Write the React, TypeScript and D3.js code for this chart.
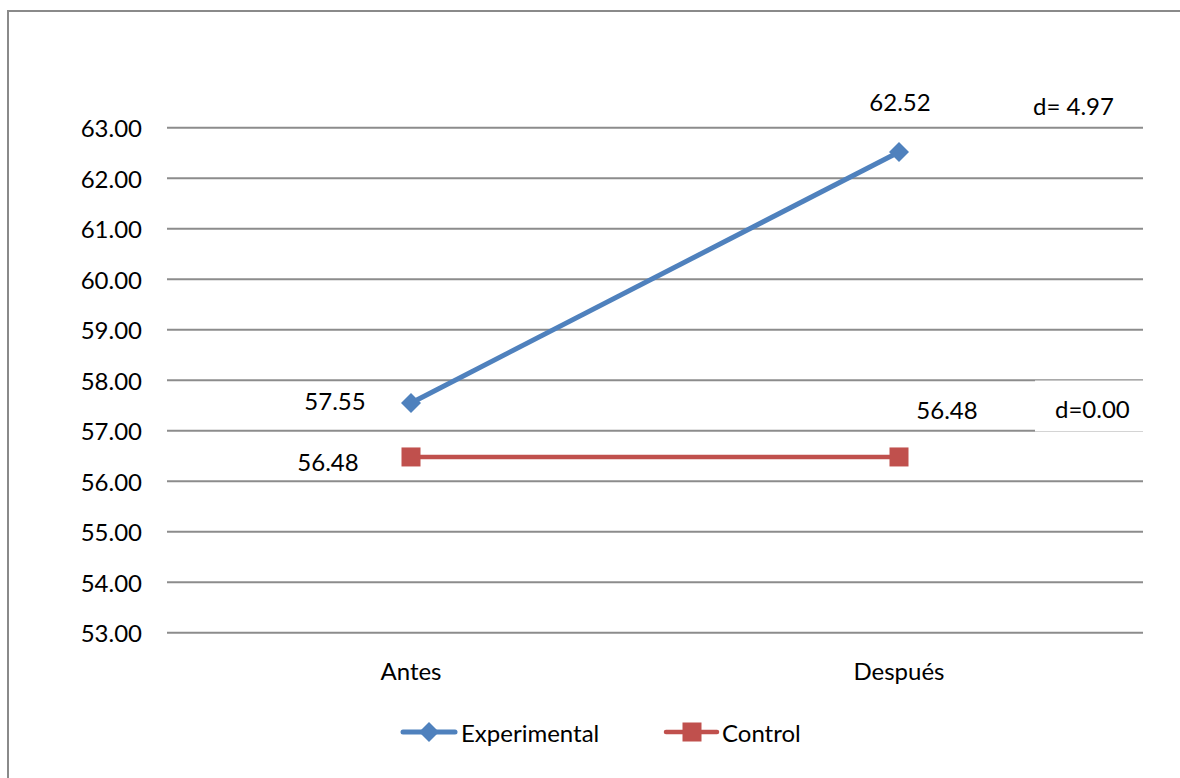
import React from "react";
import * as d3 from "d3";

const categories = ["Antes", "Después"];
const experimental = [57.55, 62.52];
const control = [56.48, 56.48];
const yTicks = [53, 54, 55, 56, 57, 58, 59, 60, 61, 62, 63];
const diffLabels = ["d= 4.97", "d=0.00"];
const seriesNames = ["Experimental", "Control"];

const W = 1180;
const H = 778;
const FONT = "Lato, 'Open Sans', sans-serif";
const FS = 24;
const BLUE = "#4f81bd";
const RED = "#c0504d";
const GRID = "#8c8c8c";

export default function App() {
  const x = d3.scaleBand<string>().domain(categories).range([167, 1143]);
  const cx = (c: string) => (x(c) ?? 0) + x.bandwidth() / 2;
  const y = d3.scaleLinear().domain([53, 63]).range([632.7, 127.7]);

  const line = d3
    .line<number>()
    .x((_, i) => cx(categories[i]))
    .y((v) => y(v));

  const diamond = (px: number, py: number, r: number) =>
    `M${px},${py - r}L${px + r},${py}L${px},${py + r}L${px - r},${py}Z`;

  return (
    <svg
      width={W}
      height={H}
      style={{ position: "absolute", left: 0, top: 0, background: "#fff" }}
      fontFamily={FONT}
    >
      {/* chart frame */}
      <path d={`M8,${H}L8,11L${W},11`} fill="none" stroke="#8a8a8a" strokeWidth={2} />

      {/* horizontal gridlines */}
      {yTicks.map((t) => (
        <line
          key={t}
          x1={167}
          x2={1143}
          y1={y(t)}
          y2={y(t)}
          stroke={GRID}
          strokeWidth={2}
        />
      ))}

      {/* y tick labels */}
      {yTicks.map((t) => (
        <text
          key={"l" + t}
          x={142}
          y={y(t)}
          textAnchor="end"
          dominantBaseline="central"
          fontSize={FS}
          fill="#000"
        >
          {t.toFixed(2)}
        </text>
      ))}

      {/* category labels */}
      {categories.map((c) => (
        <text
          key={c}
          x={cx(c)}
          y={670}
          textAnchor="middle"
          dominantBaseline="central"
          fontSize={FS}
        >
          {c}
        </text>
      ))}

      {/* control series */}
      <path d={line(control) ?? ""} fill="none" stroke={RED} strokeWidth={4.5} />
      {control.map((v, i) => (
        <rect
          key={"c" + i}
          x={cx(categories[i]) - 9.5}
          y={y(v) - 9.5}
          width={19}
          height={19}
          fill={RED}
        />
      ))}

      {/* experimental series */}
      <path d={line(experimental) ?? ""} fill="none" stroke={BLUE} strokeWidth={5} />
      {experimental.map((v, i) => (
        <path key={"e" + i} d={diamond(cx(categories[i]), y(v), 10)} fill={BLUE} />
      ))}

      {/* value labels */}
      <text x={cx(categories[0]) - 76} y={y(experimental[0]) - 2} textAnchor="middle" dominantBaseline="central" fontSize={FS}>
        {experimental[0].toFixed(2)}
      </text>
      <text x={cx(categories[1]) + 1} y={y(experimental[1]) - 50} textAnchor="middle" dominantBaseline="central" fontSize={FS}>
        {experimental[1].toFixed(2)}
      </text>
      <text x={cx(categories[0]) - 83} y={y(control[0]) + 5} textAnchor="middle" dominantBaseline="central" fontSize={FS}>
        {control[0].toFixed(2)}
      </text>
      <text x={cx(categories[1]) + 48} y={y(control[1]) - 47} textAnchor="middle" dominantBaseline="central" fontSize={FS}>
        {control[1].toFixed(2)}
      </text>

      {/* difference annotations */}
      <rect x={1035} y={380.5} width={120} height={51} fill="#fff" />
      <text x={1033} y={105} dominantBaseline="central" fontSize={FS}>
        {diffLabels[0]}
      </text>
      <text x={1055} y={408} dominantBaseline="central" fontSize={FS}>
        {diffLabels[1]}
      </text>

      {/* legend */}
      <g>
        <line x1={403} x2={455} y1={732} y2={732} stroke={BLUE} strokeWidth={5} strokeLinecap="round" />
        <path d={diamond(429, 732, 10)} fill={BLUE} />
        <text x={461} y={732} dominantBaseline="central" fontSize={FS}>
          {seriesNames[0]}
        </text>
        <line x1={666} x2={717} y1={732} y2={732} stroke={RED} strokeWidth={4.5} strokeLinecap="round" />
        <rect x={682.5} y={722.5} width={19} height={19} fill={RED} />
        <text x={722} y={732} dominantBaseline="central" fontSize={FS}>
          {seriesNames[1]}
        </text>
      </g>
    </svg>
  );
}
